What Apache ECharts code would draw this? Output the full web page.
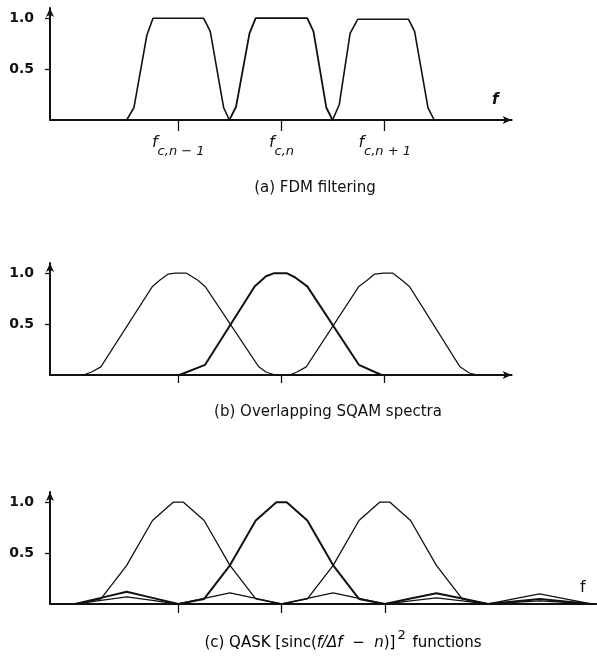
<!DOCTYPE html>
<html>
<head>
<meta charset="utf-8">
<script src="https://cdn.jsdelivr.net/npm/echarts@6/dist/echarts.min.js"></script>
<style>html,body{margin:0;padding:0;background:#fff;}#c{width:597px;height:656px;}</style>
</head>
<body>
<div id="c"></div>
<script>
// ---- tick data ----
const xTickValues = [0, 1, 2];
const xTickSubs = ['c,n − 1', 'c,n', 'c,n + 1'];
const yTickValues = [0.5, 1.0];

// ---- (a) FDM filtering: three trapezoidal filters [f, amplitude] ----
const fdmFilter1 = [[-0.50,0],[-0.43,0.12],[-0.305,0.83],[-0.245,1.0],[0.245,1.0],[0.31,0.87],[0.44,0.12],[0.495,0]];
const fdmFilter2 = [[0.495,0],[0.56,0.13],[0.69,0.85],[0.75,1.0],[1.25,1.0],[1.31,0.87],[1.435,0.12],[1.495,0]];
const fdmFilter3 = [[1.495,0],[1.56,0.15],[1.665,0.85],[1.74,0.99],[2.23,0.99],[2.29,0.87],[2.42,0.12],[2.48,0]];

// ---- (b) Overlapping SQAM spectra ----
const sqam1 = [[-0.92,0],[-0.84,0.03],[-0.75,0.08],[-0.25,0.87],[-0.18,0.93],[-0.10,0.99],[-0.03,1.0],[0.08,1.0],[0.19,0.93],[0.26,0.87],[0.78,0.08],[0.85,0.03],[0.94,0]];
const sqam2 = [[0.01,0],[0.26,0.10],[0.74,0.87],[0.85,0.97],[0.93,1.0],[1.05,1.0],[1.13,0.96],[1.25,0.87],[1.75,0.10],[1.97,0]];
const sqam3 = [[1.08,0],[1.15,0.03],[1.24,0.08],[1.75,0.87],[1.83,0.93],[1.90,0.99],[1.99,1.0],[2.08,1.0],[2.18,0.92],[2.24,0.87],[2.73,0.08],[2.82,0.02],[2.90,0]];

// ---- (c) QASK [sinc(f/Δf − n)]^2 functions ----
const qask1 = [[-1,0],[-0.75,0.05],[-0.5,0.38],[-0.25,0.82],[-0.05,1.0],[0.05,1.0],[0.25,0.82],[0.5,0.38],[0.75,0.05],[1,0],
               [1.25,0.055],[1.5,0.11],[1.75,0.055],[2,0],[2.25,0.03],[2.5,0.06],[2.75,0.03],[3,0],[3.25,0.015],[3.5,0.03],[3.75,0.015],[4,0]];
const qask2 = [[-1,0],[-0.75,0.06],[-0.5,0.12],[-0.25,0.06],[0,0],
               [0.25,0.05],[0.5,0.38],[0.75,0.82],[0.95,1.0],[1.05,1.0],[1.25,0.82],[1.5,0.38],[1.75,0.05],[2,0],
               [2.25,0.055],[2.5,0.105],[2.75,0.055],[3,0],[3.25,0.025],[3.5,0.05],[3.75,0.025],[4,0]];
const qask3 = [[-1,0],[-0.75,0.035],[-0.5,0.07],[-0.25,0.035],[0,0],[0.25,0.055],[0.5,0.11],[0.75,0.055],[1,0],
               [1.25,0.05],[1.5,0.38],[1.75,0.82],[1.95,1.0],[2.05,1.0],[2.25,0.82],[2.5,0.38],[2.75,0.05],[3,0],
               [3.25,0.05],[3.5,0.10],[3.75,0.05],[4,0]];

const FONT = 'DejaVu Sans';
const INK = '#111';

function makeX(idx, max, labels, arrow, tickLen) {
  return {
    type: 'value', gridIndex: idx, min: -1.243, max: max,
    axisLine: { show: true, onZero: false, lineStyle: { color: INK, width: 2 },
                symbol: arrow ? ['none', 'arrow'] : ['none', 'none'], symbolSize: [6, 9] },
    axisTick: { show: true, inside: false, length: tickLen, lineStyle: { color: INK, width: 1.3 },
                customValues: xTickValues },
    axisLabel: labels ? {
      show: true, margin: 15, customValues: xTickValues,
      formatter: v => { const i = xTickValues.indexOf(Math.round(v)); return i < 0 ? '' : '{f|f}{s|' + xTickSubs[i] + '}'; },
      rich: {
        f: { fontFamily: FONT, fontStyle: 'italic', fontSize: 16, color: INK, verticalAlign: 'top' },
        s: { fontFamily: FONT, fontStyle: 'italic', fontSize: 13, color: INK, padding: [10, 0, 0, 0] }
      }
    } : { show: false },
    splitLine: { show: false }
  };
}
function makeY(idx) {
  return {
    type: 'value', gridIndex: idx, min: 0, max: 1.1,
    axisLine: { show: true, onZero: false, lineStyle: { color: INK, width: 2 }, symbol: ['none', 'arrow'], symbolSize: [6, 9] },
    axisTick: { show: true, length: 5, lineStyle: { color: INK, width: 1.3 }, customValues: yTickValues },
    axisLabel: { show: true, margin: 16, customValues: yTickValues, color: INK, fontFamily: FONT,
                 fontWeight: 'bold', fontSize: 14,
                 formatter: v => (Math.abs(v - 0.5) < 1e-6 || Math.abs(v - 1) < 1e-6) ? v.toFixed(1) : '' },
    splitLine: { show: false }
  };
}
function line(data, xi, w) {
  return { type: 'line', data: data, xAxisIndex: xi, yAxisIndex: xi, showSymbol: false, symbol: 'none',
           lineStyle: { color: INK, width: w }, silent: true, z: 3 };
}

const chart = echarts.init(document.getElementById('c'), null, { renderer: 'canvas' });
chart.setOption({
  animation: false,
  backgroundColor: '#fff',
  grid: [
    { left: 50, top: 8, width: 461.6, height: 112 },
    { left: 50, top: 263, width: 461.6, height: 112 },
    { left: 50, top: 492, width: 546.4, height: 112 }
  ],
  xAxis: [ makeX(0, 3.23, true, true, 11), makeX(1, 3.23, false, true, 8), makeX(2, 4.05, false, false, 9) ],
  yAxis: [ makeY(0), makeY(1), makeY(2) ],
  series: [
    line(fdmFilter1, 0, 1.6), line(fdmFilter2, 0, 1.8), line(fdmFilter3, 0, 1.6),
    line(sqam1, 1, 1.2), line(sqam2, 1, 2), line(sqam3, 1, 1.2),
    line(qask1, 2, 1.3), line(qask2, 2, 2), line(qask3, 2, 1.3)
  ],
  graphic: [
    { type: 'text', x: 492, y: 100, style: { text: 'f', font: 'italic bold 15px "' + FONT + '"', fill: INK, verticalAlign: 'middle' } },
    { type: 'text', x: 580, y: 588, style: { text: 'f', font: '16px "' + FONT + '"', fill: INK, verticalAlign: 'middle' } },
    { type: 'text', x: 315, y: 188, style: { text: '(a) FDM filtering', font: '15px "' + FONT + '"', fill: INK, align: 'center', verticalAlign: 'middle' } },
    { type: 'text', x: 328, y: 412, style: { text: '(b) Overlapping SQAM spectra', font: '15px "' + FONT + '"', fill: INK, align: 'center', verticalAlign: 'middle' } },
    { type: 'text', x: 343, y: 640, style: {
        text: '{n|(c) QASK [sinc(}{i|f/Δf}{n|  −  }{i|n}{n|)]}{p|2}{n| functions}',
        align: 'center', verticalAlign: 'middle',
        rich: {
          n: { fontFamily: FONT, fontSize: 15, color: INK, verticalAlign: 'bottom' },
          i: { fontFamily: FONT, fontSize: 15, fontStyle: 'italic', color: INK, verticalAlign: 'bottom' },
          p: { fontFamily: FONT, fontSize: 13, color: INK, verticalAlign: 'top', padding: [0, 2, 8, 2] }
        }
    } }
  ]
});
</script>
</body>
</html>
